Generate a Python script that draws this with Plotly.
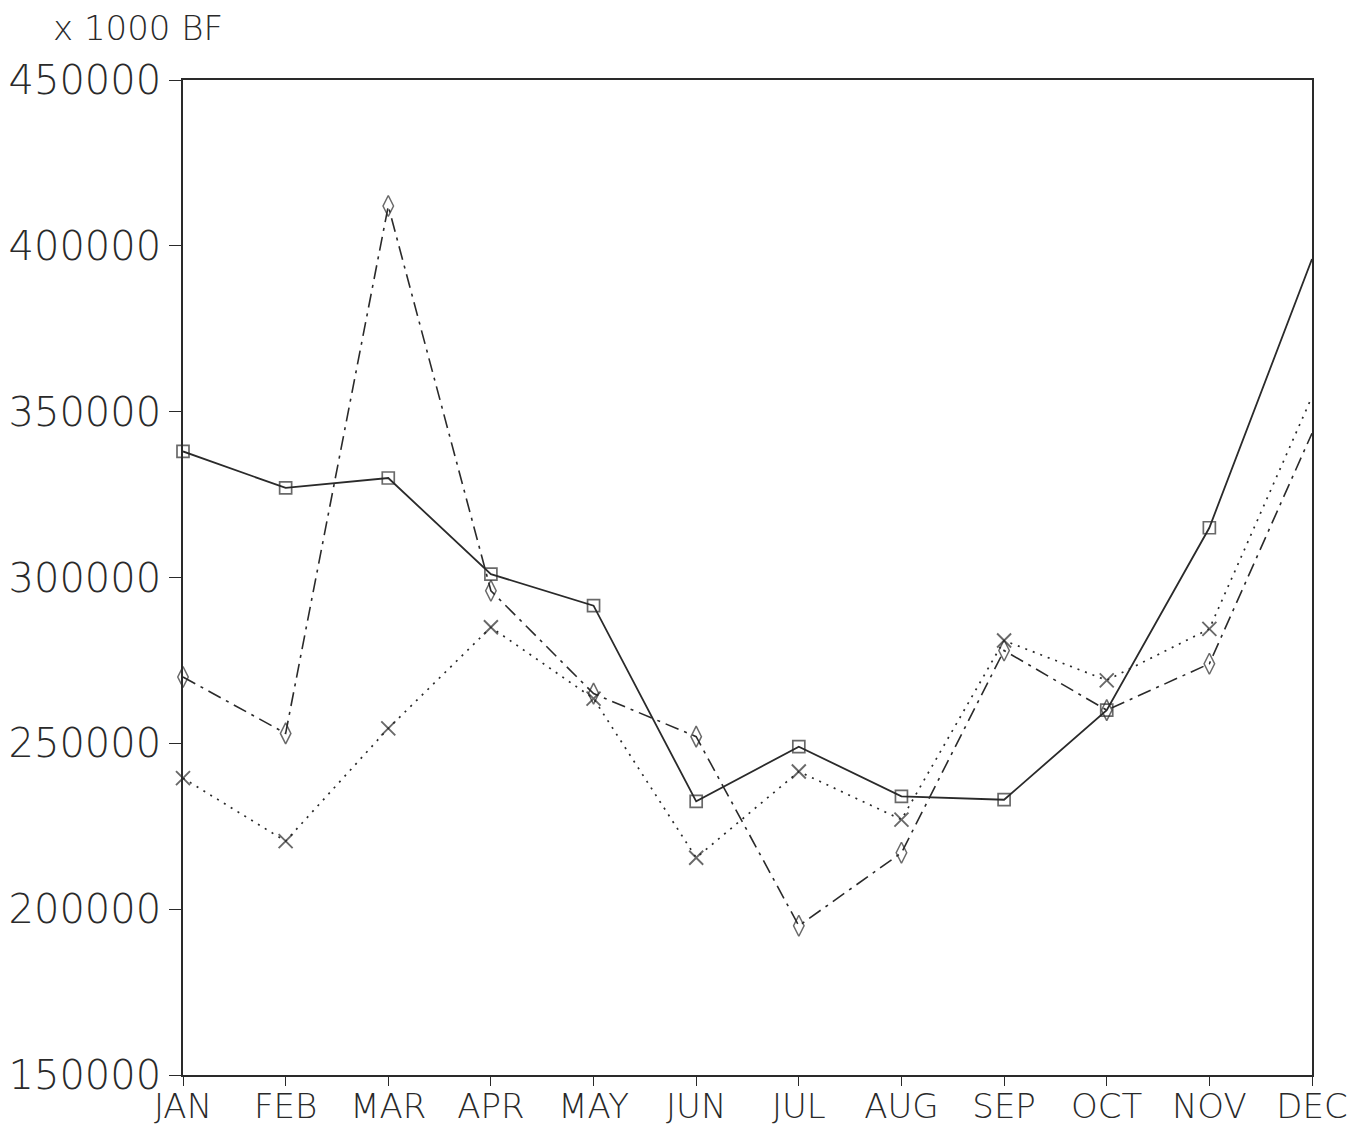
import plotly.graph_objects as go

months = ["JAN", "FEB", "MAR", "APR", "MAY", "JUN", "JUL", "AUG", "SEP", "OCT", "NOV", "DEC"]
series_solid = [338000, 327000, 330000, 301000, 291500, 232500, 249000, 234000, 233000, 260000, 315000, 396000]
series_dashdot = [270000, 253000, 412000, 296000, 265000, 252000, 195000, 217000, 278000, 260000, 274000, 343500]
series_dotted = [239500, 220500, 254500, 285000, 263500, 215500, 241500, 227000, 281000, 269000, 284500, 354500]
y_ticks = [150000, 200000, 250000, 300000, 350000, 400000, 450000]

ink = "#2a2a2a"
font_family = "DejaVu Sans"

def marker_sizes(n, size):
    # no marker drawn at the last point (line runs into the frame)
    return [size] * (n - 1) + [0]

fig = go.Figure()

fig.add_trace(go.Scatter(
    x=months, y=series_dotted, mode="lines+markers",
    line=dict(color=ink, width=1.7, dash="2px,6px"),
    marker=dict(symbol="x-thin-open", size=marker_sizes(len(months), 14),
                line=dict(color=ink, width=1.9), color=ink),
    showlegend=False, cliponaxis=False,
))
fig.add_trace(go.Scatter(
    x=months, y=series_dashdot, mode="lines+markers",
    line=dict(color=ink, width=1.6, dash="14px,6px,3px,6px"),
    marker=dict(symbol="diamond-tall-open", size=marker_sizes(len(months), 15),
                line=dict(color=ink, width=1.5), color=ink),
    showlegend=False, cliponaxis=False,
))
fig.add_trace(go.Scatter(
    x=months, y=series_solid, mode="lines+markers",
    line=dict(color=ink, width=1.8),
    marker=dict(symbol="square-open", size=marker_sizes(len(months), 12),
                line=dict(color=ink, width=1.7), color=ink),
    showlegend=False, cliponaxis=False,
))

# page body adds an 8px offset; figure sized to fit the window and margins
# place the plot box at x 183..1312, y 80..1075 in the window
fig.update_layout(
    width=1360, height=1120,
    margin=dict(l=175, r=56, t=72, b=53),
    paper_bgcolor="white", plot_bgcolor="white",
    font=dict(family=font_family, color=ink, size=34, weight=200),
    annotations=[dict(
        text="x 1000 BF", xref="paper", yref="paper", x=-0.117, y=1.074,
        xanchor="left", yanchor="top", showarrow=False,
        font=dict(family=font_family, size=34, color=ink, weight=200),
    )],
)

fig.update_xaxes(
    type="category", categoryorder="array", categoryarray=months,
    range=[0, len(months) - 1], automargin=False,
    showgrid=False, zeroline=False,
    showline=True, linecolor=ink, linewidth=1.6, mirror=True,
    ticks="outside", ticklen=9, tickwidth=1.4, tickcolor=ink,
    ticklabelstandoff=-9,
    tickfont=dict(family=font_family, size=34, color=ink, weight=200),
)
fig.update_yaxes(
    range=[150000, 450000], tickvals=y_ticks, automargin=False,
    ticktext=[str(v) for v in y_ticks],
    showgrid=False, zeroline=False,
    showline=True, linecolor=ink, linewidth=1.6, mirror=True,
    ticks="outside", ticklen=12, tickwidth=1.4, tickcolor=ink,
    tickfont=dict(family=font_family, size=40, color=ink, weight=200),
)

fig.write_html("out.html")
